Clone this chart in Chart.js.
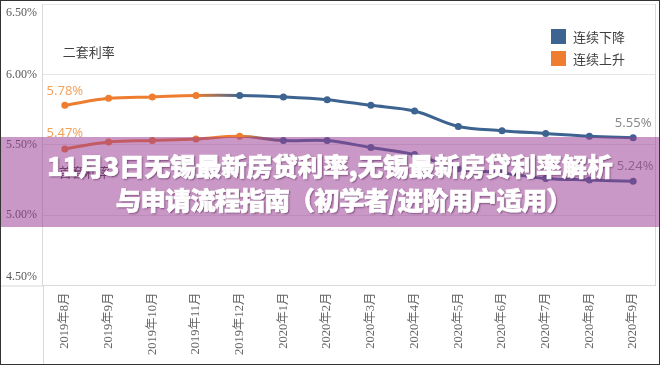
<!DOCTYPE html>
<html>
<head>
<meta charset="utf-8">
<script src="https://cdn.jsdelivr.net/npm/chart.js@4.4.1/dist/chart.umd.min.js"></script>
<style>
  html, body { margin: 0; padding: 0; background: #fff; }
  #wrap { position: relative; width: 660px; height: 365px; overflow: hidden; }
  #wrap canvas { position: absolute; left: 0; top: 0; }
  #banner {
    position: absolute; left: 0; top: 137px; width: 660px; height: 90px;
    background: rgba(155, 60, 148, 0.53);
    display: flex; flex-direction: column; justify-content: center; align-items: center;
    color: #fff; font-family: "Noto Sans CJK SC", sans-serif; font-weight: 900;
    font-size: 25.5px; line-height: 34px; white-space: nowrap;
    -webkit-text-stroke: 0.7px #fff;
    text-shadow: 1px 1px 2px rgba(70, 20, 70, 0.7);
  }
  #banner .l2 { padding-left: 27px; letter-spacing: -0.7px; }
  #frame {
    position: absolute; left: 0; top: 0; width: 660px; height: 365px;
    box-sizing: border-box; border: 1px solid #333; pointer-events: none;
  }
</style>
</head>
<body>
<div id="wrap">
  <canvas id="rateChart" width="660" height="365"></canvas>
  <div id="banner">
    <div>11月3日无锡最新房贷利率,无锡最新房贷利率解析</div>
    <div class="l2">与申请流程指南（初学者/进阶用户适用）</div>
  </div>
  <div id="frame"></div>
</div>
<script>
const months = ['2019年8月', '2019年9月', '2019年10月', '2019年11月', '2019年12月', '2020年1月', '2020年2月',
  '2020年3月', '2020年4月', '2020年5月', '2020年6月', '2020年7月', '2020年8月', '2020年9月'];
const secondRate = [5.78, 5.83, 5.84, 5.85, 5.85, 5.84, 5.82, 5.78, 5.74, 5.63, 5.60, 5.58, 5.56, 5.55];
const firstRate = [5.47, 5.52, 5.53, 5.54, 5.56, 5.53, 5.53, 5.48, 5.43, 5.33, 5.30, 5.26, 5.25, 5.24];
const seriesNames = ['二套利率', '首套利率'];
const legendNames = ['连续下降', '连续上升'];
const yTicks = [4.5, 5.0, 5.5, 6.0, 6.5];
const yTickLabels = ['4.50%', '5.00%', '5.50%', '6.00%', '6.50%'];

const ORANGE = '#ee7d2f';
const BLUE = '#3d6490';

Chart.defaults.font.family = '"Noto Sans", "Noto Sans CJK SC", sans-serif';

// last point of the rising run (first time the max is hit)
function peakIndex(arr) {
  return arr.indexOf(Math.max(...arr));
}

function segColor(turn) {
  return ctx => {
    if (ctx.p1DataIndex <= turn) return ORANGE;
    if (ctx.p0DataIndex > turn) return BLUE;
    const g = ctx.chart.ctx.createLinearGradient(ctx.p0.x, 0, ctx.p1.x, 0);
    g.addColorStop(0, ORANGE);
    g.addColorStop(1, BLUE);
    return g;
  };
}

function pointColors(arr) {
  const turn = peakIndex(arr);
  return arr.map((v, i) => i <= turn ? ORANGE : BLUE);
}

function makeSet(label, arr) {
  return {
    label: label,
    data: arr,
    borderWidth: 3,
    tension: 0.35,
    pointRadius: 3.5,
    pointBorderWidth: 0,
    pointBackgroundColor: pointColors(arr),
    segment: { borderColor: segColor(peakIndex(arr)) }
  };
}

// gray frame lines + value / series labels + legend
const decorPlugin = {
  id: 'decor',
  beforeDatasetsDraw(chart) {
    const { ctx, chartArea } = chart;
    ctx.save();
    ctx.strokeStyle = '#d9d9d9';
    ctx.lineWidth = 1;
    ctx.beginPath();
    ctx.moveTo(1, chartArea.bottom + 0.5);
    ctx.lineTo(chartArea.left, chartArea.bottom + 0.5);
    ctx.moveTo(chartArea.left + 0.5, chartArea.bottom);
    ctx.lineTo(chartArea.left + 0.5, chart.height);
    ctx.moveTo(chartArea.right + 0.5, chartArea.top);
    ctx.lineTo(chartArea.right + 0.5, chartArea.bottom);
    ctx.stroke();
    ctx.restore();
  },
  afterDatasetsDraw(chart) {
    const { ctx, chartArea, scales: { x, y } } = chart;
    const last = months.length - 1;
    ctx.save();
    ctx.textBaseline = 'middle';
    ctx.font = '13px "Noto Sans", sans-serif';
    ctx.textAlign = 'center';
    ctx.fillStyle = '#f2a45e';
    ctx.fillText(secondRate[0].toFixed(2) + '%', x.getPixelForValue(0), y.getPixelForValue(secondRate[0]) - 14);
    ctx.fillText(firstRate[0].toFixed(2) + '%', x.getPixelForValue(0), y.getPixelForValue(firstRate[0]) - 16);
    ctx.fillStyle = '#8a8a8a';
    ctx.fillText(secondRate[last].toFixed(2) + '%', x.getPixelForValue(last), y.getPixelForValue(secondRate[last]) - 14);
    ctx.fillText(firstRate[last].toFixed(2) + '%', x.getPixelForValue(last) + 2, y.getPixelForValue(firstRate[last]) - 15);

    ctx.font = '13px "Noto Sans CJK SC", sans-serif';
    ctx.textAlign = 'left';
    ctx.fillStyle = '#404040';
    ctx.fillText(seriesNames[0], x.getPixelForValue(0) - 2, y.getPixelForValue(secondRate[0]) - 53);
    ctx.fillText(seriesNames[1], x.getPixelForValue(0) - 6, y.getPixelForValue(firstRate[0]) + 23);

    // legend, top right inside the plot
    const lx = chartArea.right - 104;
    const colors = [BLUE, ORANGE];
    legendNames.forEach((name, i) => {
      const ty = chartArea.top + 25 + i * 22;
      ctx.fillStyle = colors[i];
      ctx.fillRect(lx, ty, 15, 15);
      ctx.fillStyle = '#404040';
      ctx.fillText(name, lx + 22, ty + 8);
    });
    ctx.restore();
  }
};

const config = {
  type: 'line',
  data: {
    labels: months,
    datasets: [makeSet(seriesNames[0], secondRate), makeSet(seriesNames[1], firstRate)]
  },
  options: {
    responsive: false,
    animation: false,
    layout: { padding: { left: 0, right: 5, top: 0, bottom: 3 } },
    plugins: { legend: { display: false }, tooltip: { enabled: false } },
    scales: {
      x: {
        offset: true,
        grid: { display: false, drawTicks: false },
        border: { color: '#d9d9d9' },
        ticks: {
          autoSkip: false, minRotation: 90, maxRotation: 90, padding: 7,
          color: '#666666',
          font: { family: '"Liberation Serif", "Noto Sans CJK SC", serif', size: 12.5 }
        }
      },
      y: {
        min: 4.5,
        max: 6.5,
        afterBuildTicks: s => { s.ticks = yTicks.map(v => ({ value: v })); },
        afterFit: s => { s.paddingTop = 0; s.paddingBottom = 0; },
        grid: { color: '#e6e6e6', drawTicks: false },
        border: { color: '#d9d9d9' },
        ticks: {
          padding: 6,
          color: '#595959',
          font: { family: '"Liberation Serif", serif', size: 12, lineHeight: 1.5 },
          callback: (v, i) => {
            const t = yTickLabels[i];
            if (i === 0) return [t, ''];
            if (i === yTicks.length - 1) return ['', t];
            return t;
          }
        }
      }
    }
  },
  plugins: [decorPlugin]
};

const rateChart = new Chart(document.getElementById('rateChart'), config);
</script>
</body>
</html>
